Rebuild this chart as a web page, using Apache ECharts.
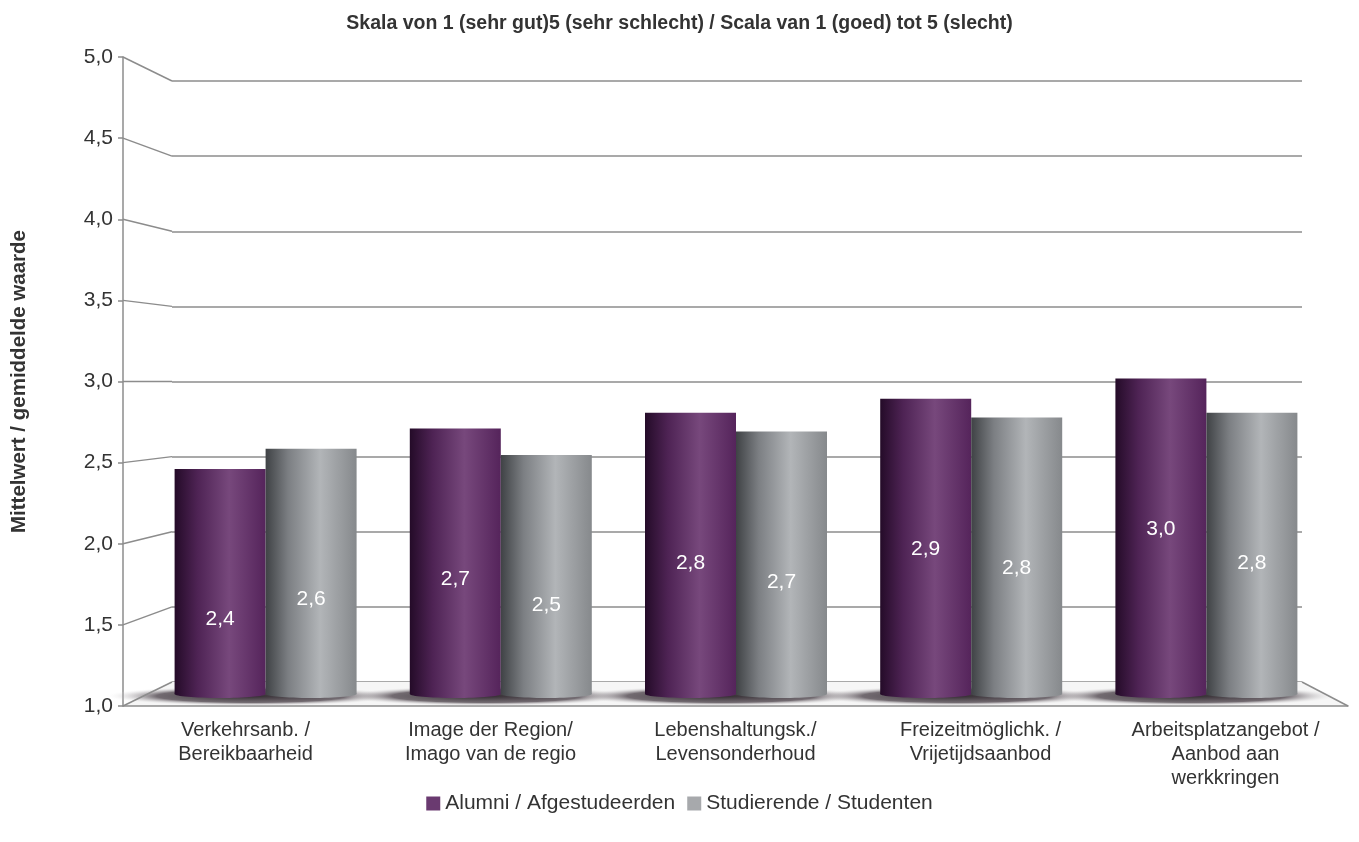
<!DOCTYPE html>
<html>
<head>
<meta charset="utf-8">
<script src="https://cdn.jsdelivr.net/npm/echarts@6/dist/echarts.min.js"></script>
<style>
  html, body { margin: 0; padding: 0; background: #fff; }
  #chart { width: 1359px; height: 842px; }
</style>
</head>
<body>
<div id="chart"></div>
<script>
const categories = [
  'Verkehrsanb. /\nBereikbaarheid',
  'Image der Region/\nImago van de regio',
  'Lebenshaltungsk./\nLevensonderhoud',
  'Freizeitmöglichk. /\nVrijetijdsaanbod',
  'Arbeitsplatzangebot /\nAanbod aan\nwerkkringen'
]
const alumni = [2.44, 2.70, 2.80, 2.89, 3.02]
const studenten = [2.57, 2.53, 2.68, 2.77, 2.80]
const yTicks = [1, 1.5, 2, 2.5, 3, 3.5, 4, 4.5, 5]

const font = '"Liberation Sans", Arial, sans-serif'
const lineColor = '#8c8c8c'

const fmt = (v) => v.toFixed(1).replace('.', ',')

const purpleStops = [
  { offset: 0, color: '#240b28' },
  { offset: 0.25, color: '#4e2354' },
  { offset: 0.6, color: '#77487c' },
  { offset: 1, color: '#55245b' }
]
const greyStops = [
  { offset: 0, color: '#3f4245' },
  { offset: 0.25, color: '#7c7f83' },
  { offset: 0.6, color: '#b2b5b8' },
  { offset: 1, color: '#86898c' }
]
const purple = new echarts.graphic.LinearGradient(0, 0, 1, 0, purpleStops)
const grey = new echarts.graphic.LinearGradient(0, 0, 1, 0, greyStops)

const chart = echarts.init(document.getElementById('chart'))

const barLabel = {
  show: true,
  position: 'insideTop',
  distance: 140,
  color: '#fff',
  fontSize: 21,
  fontFamily: font,
  formatter: (p) => fmt(p.value)
}

// share of a category band that one bar takes
const barShare = 0.387

const option = {
  animation: false,
  textStyle: { fontFamily: font },
  title: {
    text: 'Skala von 1 (sehr gut)5 (sehr schlecht) / Scala van 1 (goed) tot 5 (slecht)',
    left: 'center',
    top: 9,
    textStyle: { fontSize: 19.5, fontWeight: 'bold', color: '#333', fontFamily: font }
  },
  legend: {
    bottom: 23,
    left: 'center',
    icon: 'rect',
    itemWidth: 14,
    itemHeight: 14,
    itemGap: 12,
    textStyle: { fontSize: 21, color: '#333', fontFamily: font },
    data: [
      { name: 'Alumni / Afgestudeerden', itemStyle: { color: '#6a3a70' } },
      { name: 'Studierende / Studenten', itemStyle: { color: '#a7a9ac' } }
    ]
  },
  grid: [
    // back wall
    { left: 172, right: 57, top: 81, bottom: 160 },
    // front axis plane
    { left: 123, right: 11, top: 57, bottom: 136 },
    // bars, half way in depth
    { left: 148, right: 35, top: 69, bottom: 148 }
  ],
  xAxis: [
    { gridIndex: 0, type: 'category', data: categories, show: false },
    {
      gridIndex: 1,
      type: 'category',
      data: categories,
      axisLine: { lineStyle: { color: lineColor, width: 1.5 } },
      axisTick: { show: false },
      axisLabel: { fontSize: 20, color: '#333', lineHeight: 24, margin: 12, interval: 0 }
    },
    { gridIndex: 2, type: 'category', data: categories, show: false }
  ],
  yAxis: [
    {
      gridIndex: 0,
      type: 'value',
      min: 1,
      max: 5,
      interval: 0.5,
      axisLine: { show: false },
      axisTick: { show: false },
      axisLabel: { show: false },
      splitLine: { lineStyle: { color: lineColor, width: 1.5 } }
    },
    {
      gridIndex: 1,
      type: 'value',
      min: 1,
      max: 5,
      interval: 0.5,
      name: 'Mittelwert / gemiddelde waarde',
      nameLocation: 'middle',
      nameGap: 93,
      nameTextStyle: { fontSize: 20.5, fontWeight: 'bold', color: '#333' },
      axisLine: { show: true, lineStyle: { color: lineColor, width: 1.5 } },
      axisTick: { show: true, length: 5, lineStyle: { color: lineColor, width: 1.5 } },
      axisLabel: { fontSize: 21, color: '#333', margin: 10, formatter: (v) => fmt(v) },
      splitLine: { show: false }
    },
    { gridIndex: 2, type: 'value', min: 1, max: 5, show: false }
  ],
  series: [
    {
      // soft shadows on the floor, one per category
      type: 'custom',
      xAxisIndex: 2,
      yAxisIndex: 2,
      silent: true,
      z: 1,
      data: categories.map((c, i) => [i, 1]),
      renderItem: (params, api) => {
        const c = api.coord([api.value(0), 1])
        const band = params.coordSys.width / categories.length
        const r = 10
        return {
          type: 'circle',
          x: c[0] - 14,
          y: c[1] + 2,
          scaleX: (band * 0.62) / r,
          shape: { cx: 0, cy: 0, r: r },
          style: {
            fill: new echarts.graphic.RadialGradient(0.5, 0.5, 0.5, [
              { offset: 0, color: 'rgba(40,32,38,0.95)' },
              { offset: 0.65, color: 'rgba(70,60,68,0.75)' },
              { offset: 1, color: 'rgba(245,245,245,0)' }
            ])
          }
        }
      }
    },
    {
      // rounded bottom of each cylinder
      type: 'custom',
      xAxisIndex: 2,
      yAxisIndex: 2,
      silent: true,
      z: 2,
      data: categories.map((c, i) => [i, 1]).concat(categories.map((c, i) => [i, 1])),
      renderItem: (params, api) => {
        const c = api.coord([api.value(0), 1])
        const band = params.coordSys.width / categories.length
        const bw = band * barShare
        const alumniSide = params.dataIndex < categories.length
        const cx = alumniSide ? c[0] - bw / 2 : c[0] + bw / 2
        return {
          type: 'ellipse',
          shape: { cx: cx, cy: c[1], rx: bw / 2, ry: 4 },
          style: {
            fill: new echarts.graphic.LinearGradient(0, 0, 1, 0, alumniSide ? purpleStops : greyStops)
          }
        }
      }
    },
    {
      name: 'Alumni / Afgestudeerden',
      type: 'bar',
      xAxisIndex: 2,
      yAxisIndex: 2,
      z: 3,
      barWidth: 91,
      barGap: '0%',
      data: alumni,
      itemStyle: { color: purple },
      label: barLabel
    },
    {
      name: 'Studierende / Studenten',
      type: 'bar',
      xAxisIndex: 2,
      yAxisIndex: 2,
      z: 3,
      barWidth: 91,
      barGap: '0%',
      data: studenten,
      itemStyle: { color: grey },
      label: barLabel
    }
  ]
}

chart.setOption(option)

// floor and the slanted links between the front axis and the back wall
const graphics = []
const gFront = chart.getModel().getComponent('grid', 1).coordinateSystem.getRect()
const gBack = chart.getModel().getComponent('grid', 0).coordinateSystem.getRect()
graphics.push({
  type: 'polygon',
  z: 0,
  silent: true,
  shape: {
    points: [
      [gFront.x, gFront.y + gFront.height],
      [gFront.x + gFront.width, gFront.y + gFront.height],
      [gBack.x + gBack.width, gBack.y + gBack.height],
      [gBack.x, gBack.y + gBack.height]
    ]
  },
  style: { fill: '#f6f6f6', stroke: null }
})
graphics.push({
  type: 'line',
  z: 5,
  silent: true,
  shape: {
    x1: gFront.x + gFront.width, y1: gFront.y + gFront.height,
    x2: gBack.x + gBack.width, y2: gBack.y + gBack.height
  },
  style: { stroke: lineColor, lineWidth: 1.5 }
})
yTicks.forEach((t) => {
  const f = chart.convertToPixel({ xAxisIndex: 1, yAxisIndex: 1 }, [0, t])
  const b = chart.convertToPixel({ xAxisIndex: 0, yAxisIndex: 0 }, [0, t])
  graphics.push({
    type: 'line',
    z: 1,
    silent: true,
    shape: { x1: gFront.x, y1: f[1], x2: gBack.x, y2: b[1] },
    style: { stroke: lineColor, lineWidth: 1.5 }
  })
})
chart.setOption({ graphic: graphics })
</script>
</body>
</html>
